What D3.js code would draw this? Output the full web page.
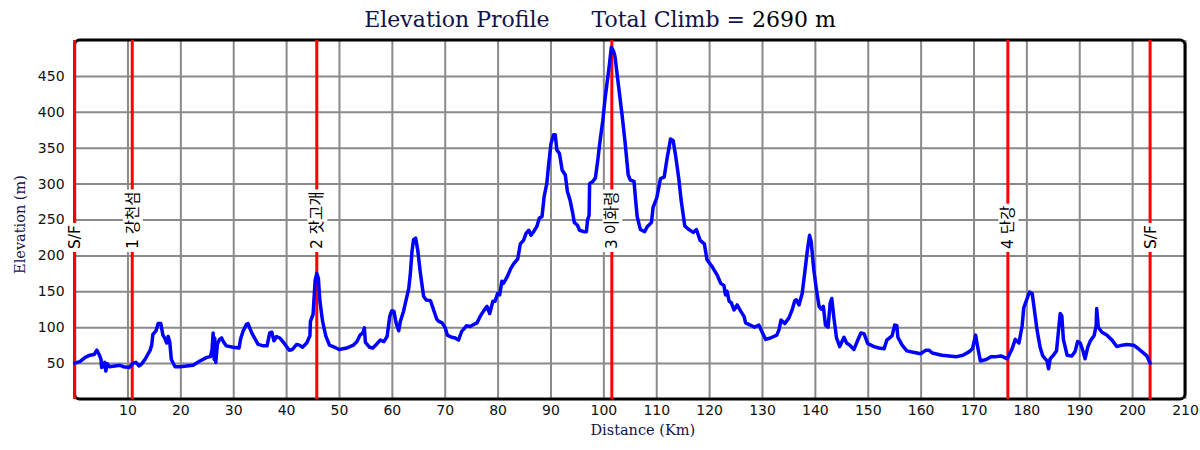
<!DOCTYPE html>
<html>
<head>
<meta charset="utf-8">
<script src="https://cdn.jsdelivr.net/npm/d3@7"></script>
<style>
  body { margin: 0; background: #fff; }
  svg { display: block; }
</style>
</head>
<body>
<div id="chart"></div>
<script>
var distKm = [0, 1.0, 2.0, 2.9, 3.7, 4.2, 4.7, 5.0, 5.1, 5.4, 5.7, 5.9, 6.2, 6.6, 7.6, 8.6, 9.2, 10.3, 11.1, 11.6,
  12.2, 12.7, 13.3, 14.3, 14.6, 14.8, 15.4, 15.8, 16.3, 16.7, 17.1, 17.4, 17.7, 18.0, 18.3, 19.0, 19.9, 21.2, 22.4, 23.7,
  25.0, 25.7, 26.0, 26.2, 26.4, 26.5, 26.7, 27.0, 27.4, 27.8, 28.2, 28.7, 30.0, 31.1, 31.4, 31.9, 32.5, 32.8, 33.5, 34.1,
  34.7, 35.7, 36.4, 36.9, 37.3, 37.7, 38.2, 38.8, 39.8, 40.6, 41.2, 42.0, 42.5, 43.1, 43.9, 44.5, 44.6, 45.1, 45.5, 45.8,
  46.1, 46.4, 46.9, 47.5, 48.2, 49.2, 50.0, 51.5, 52.7, 53.4, 54.0, 54.5, 54.8, 55.0, 55.8, 56.4, 57.2, 57.8, 58.5, 59.1,
  59.6, 60.0, 60.4, 60.8, 61.3, 61.6, 62.2, 62.7, 63.2, 63.5, 63.8, 64.1, 64.5, 64.9, 65.4, 66.0, 66.5, 67.3, 67.9, 68.5,
  68.9, 69.5, 70.1, 70.5, 71.3, 72.0, 72.6, 73.2, 74.1, 74.8, 75.3, 76.1, 76.7, 77.3, 78.0, 78.5, 79.1, 79.5, 80.0, 80.4,
  80.8, 81.1, 81.8, 82.5, 83.1, 83.8, 84.3, 84.9, 85.4, 85.9, 86.3, 86.8, 87.4, 87.9, 88.4, 88.8, 89.3, 89.6, 90.1, 90.6,
  90.9, 91.2, 91.7, 92.2, 92.8, 93.2, 93.7, 94.2, 94.5, 95.1, 95.5, 96.3, 96.8, 97.0, 97.3, 97.4, 98.0, 98.5, 98.9, 99.4,
  99.9, 100.3, 101.1, 101.5, 101.9, 102.2, 102.8, 103.5, 104.1, 104.7, 105.1, 105.8, 106.1, 106.4, 107.0, 107.8, 108.3, 109.1, 109.4, 110.1,
  110.8, 111.5, 112.0, 112.7, 113.2, 113.7, 114.3, 114.7, 115.4, 116.2, 117.0, 117.6, 118.3, 119.1, 119.6, 120.6, 121.5, 122.2, 122.8, 123.1,
  123.4, 123.8, 124.2, 124.7, 125.3, 126.0, 126.6, 126.9, 127.8, 128.6, 129.4, 130.1, 130.7, 131.6, 132.8, 133.2, 133.6, 134.3, 135.1, 135.7,
  136.2, 136.5, 137.0, 137.6, 138.1, 138.6, 139.0, 139.3, 139.8, 140.3, 140.8, 141.2, 141.6, 142.0, 142.5, 142.9, 143.2, 143.6, 144.1, 144.7,
  145.5, 146.0, 146.6, 147.4, 148.0, 148.7, 149.3, 150.0, 151.2, 152.1, 153.1, 153.6, 154.6, 155.1, 155.5, 155.7, 156.5, 157.4, 158.6, 160.0,
  161.0, 161.6, 162.2, 164.0, 166.8, 168.0, 169.2, 169.8, 170.4, 170.8, 171.3, 172.4, 173.3, 174.3, 175.2, 176.4, 177.3, 177.9, 178.6, 179.2,
  179.5, 180.0, 180.6, 181.1, 181.5, 182.0, 182.6, 183.1, 183.9, 184.2, 184.5, 185.0, 185.7, 186.1, 186.4, 186.7, 187.0, 187.7, 188.6, 189.2,
  189.7, 190.2, 190.7, 191.1, 191.6, 192.1, 192.8, 193.2, 193.3, 193.6, 194.3, 195.2, 196.2, 197.1, 198.1, 199.0, 200.3, 201.2, 202.0, 202.8,
  203.4];

var elevM = [50, 52, 58, 61, 62, 68, 61, 55, 44, 45, 51, 39, 49, 45, 46, 47, 45, 44, 50, 51,
  46, 49, 55, 68, 76, 90, 95, 105, 105, 89, 84, 78, 87, 79, 55, 45, 45, 46, 47, 53,
  58, 59, 69, 92, 55, 85, 51, 76, 83, 85, 79, 74, 72, 71, 84, 95, 104, 105, 92, 84,
  76, 74, 74, 92, 93, 81, 87, 85, 76, 68, 69, 76, 75, 72, 78, 88, 108, 118, 166, 175,
  168, 136, 108, 88, 75, 72, 69, 71, 75, 80, 89, 92, 99, 79, 72, 71, 77, 82, 80, 87,
  115, 123, 122, 106, 95, 108, 122, 138, 154, 175, 205, 222, 224, 207, 175, 143, 138, 137, 124, 111,
  108, 106, 99, 89, 86, 85, 82, 94, 102, 101, 103, 106, 115, 122, 129, 119, 136, 136, 147, 145,
  164, 161, 170, 182, 189, 195, 216, 221, 231, 235, 228, 233, 240, 252, 254, 282, 300, 323, 356, 368,
  368, 347, 342, 319, 312, 289, 277, 259, 246, 242, 235, 233, 233, 249, 256, 300, 303, 308, 330, 361,
  388, 417, 463, 490, 485, 477, 440, 398, 358, 312, 305, 303, 277, 254, 236, 233, 240, 246, 267, 280,
  307, 309, 333, 362, 360, 337, 305, 277, 241, 236, 232, 236, 221, 216, 194, 184, 173, 161, 158, 145,
  150, 136, 134, 124, 131, 122, 115, 106, 103, 100, 103, 92, 83, 85, 89, 96, 110, 105, 113, 124,
  137, 138, 131, 147, 177, 208, 228, 219, 180, 152, 129, 125, 129, 103, 100, 134, 140, 113, 85, 73,
  86, 78, 75, 69, 80, 92, 91, 77, 73, 71, 70, 82, 88, 103, 102, 86, 75, 67, 65, 63,
  68, 68, 64, 61, 59, 61, 66, 70, 89, 72, 53, 55, 59, 59, 60, 56, 70, 83, 78, 102,
  127, 137, 149, 147, 125, 97, 72, 60, 53, 42, 56, 60, 67, 97, 119, 116, 83, 61, 60, 66,
  80, 78, 67, 56, 72, 81, 88, 102, 126, 100, 93, 89, 82, 73, 75, 76, 75, 70, 65, 60,
  50];

var markerKm = [0, 10.9, 45.8, 101.6, 176.5, 203.4];
var markerLabel = ["S/F", "1 강천섬", "2 잣고개", "3 이화령", "4 단강", "S/F"];

var xTicks = [10, 20, 30, 40, 50, 60, 70, 80, 90, 100, 110, 120, 130, 140, 150, 160, 170, 180, 190, 200, 210];
var yTicks = [50, 100, 150, 200, 250, 300, 350, 400, 450];

var totalClimb = "2690 m";

var W = 1200, H = 450;
var plot = { left: 74.6, right: 1185, top: 40, bottom: 399 };
var navy = "#12124a";
var serif = "'DejaVu Serif', serif";
var sans = "'DejaVu Sans', 'Noto Sans CJK KR', sans-serif";

var svg = d3.select("#chart").append("svg")
  .attr("width", W)
  .attr("height", H);

var x = d3.scaleLinear().domain([0, 210]).range([plot.left, plot.right]);
var y = d3.scaleLinear().domain([0, 500]).range([plot.bottom, plot.top]);

// grid + tick labels
var xAxis = svg.append("g")
  .attr("transform", "translate(0," + plot.bottom + ")")
  .call(d3.axisBottom(x).tickValues(xTicks).tickSize(-(plot.bottom - plot.top)).tickPadding(6));

var yAxis = svg.append("g")
  .attr("transform", "translate(" + plot.left + ",0)")
  .call(d3.axisLeft(y).tickValues(yTicks).tickSize(-(plot.right - plot.left)).tickPadding(10));

[xAxis, yAxis].forEach(function(a) {
  a.select(".domain").remove();
  a.selectAll(".tick line").attr("stroke", "#8a8a8a").attr("stroke-width", 2);
  a.selectAll(".tick text")
    .attr("fill", "#111")
    .style("font-family", sans)
    .style("font-size", "14px");
});

// frame
svg.append("rect")
  .attr("x", plot.left)
  .attr("y", plot.top)
  .attr("width", plot.right - plot.left)
  .attr("height", plot.bottom - plot.top)
  .attr("rx", 5)
  .attr("fill", "none")
  .attr("stroke", "#000")
  .attr("stroke-width", 3);

// checkpoint lines
svg.selectAll("line.marker")
  .data(markerKm)
  .enter().append("line")
  .attr("class", "marker")
  .attr("x1", function(d) { return x(d); })
  .attr("x2", function(d) { return x(d); })
  .attr("y1", y(500))
  .attr("y2", y(0))
  .attr("stroke", "#ff0000")
  .attr("stroke-width", 3);

// checkpoint labels, white box behind rotated text
var labelY = 250;
var lab = svg.selectAll("g.mlabel")
  .data(markerKm)
  .enter().append("g")
  .attr("class", "mlabel")
  .attr("transform", function(d) { return "translate(" + x(d) + "," + labelY + ") rotate(-90)"; });

lab.append("text")
  .attr("x", 1)
  .attr("dy", "0.36em")
  .attr("fill", "#000")
  .style("font-family", sans)
  .style("font-size", "15.5px")
  .text(function(d, i) { return markerLabel[i]; });

lab.each(function() {
  var g = d3.select(this);
  var bb = g.select("text").node().getBBox();
  g.insert("rect", "text")
    .attr("x", bb.x - 3)
    .attr("y", bb.y - 1)
    .attr("width", bb.width + 5)
    .attr("height", bb.height + 2)
    .attr("fill", "#fff");
});

// elevation profile
var profile = distKm.map(function(d, i) { return [d, elevM[i]]; });

svg.append("path")
  .datum(profile)
  .attr("fill", "none")
  .attr("stroke", "#0000ff")
  .attr("stroke-width", 3.5)
  .attr("stroke-linejoin", "round")
  .attr("stroke-linecap", "round")
  .attr("d", d3.line()
    .x(function(d) { return x(d[0]); })
    .y(function(d) { return y(d[1]); }));

// title
var title = svg.append("text")
  .attr("x", 600)
  .attr("y", 27)
  .attr("text-anchor", "middle")
  .style("font-family", serif)
  .style("font-size", "22px");

title.append("tspan").attr("fill", navy).text("Elevation Profile");
title.append("tspan").attr("fill", navy).attr("dx", 42).text("Total Climb = ");
title.append("tspan").attr("fill", "#000").style("font-weight", 300).text(totalClimb);

// axis titles
svg.append("text")
  .attr("transform", "translate(25," + ((plot.top + plot.bottom) / 2 + 5) + ") rotate(-90)")
  .attr("text-anchor", "middle")
  .attr("fill", navy)
  .style("font-family", serif)
  .style("font-size", "14.5px")
  .text("Elevation (m)");

svg.append("text")
  .attr("x", (plot.left + plot.right) / 2 + 13)
  .attr("y", 435)
  .attr("text-anchor", "middle")
  .attr("fill", navy)
  .style("font-family", serif)
  .style("font-size", "14.5px")
  .text("Distance (Km)");
</script>
</body>
</html>
